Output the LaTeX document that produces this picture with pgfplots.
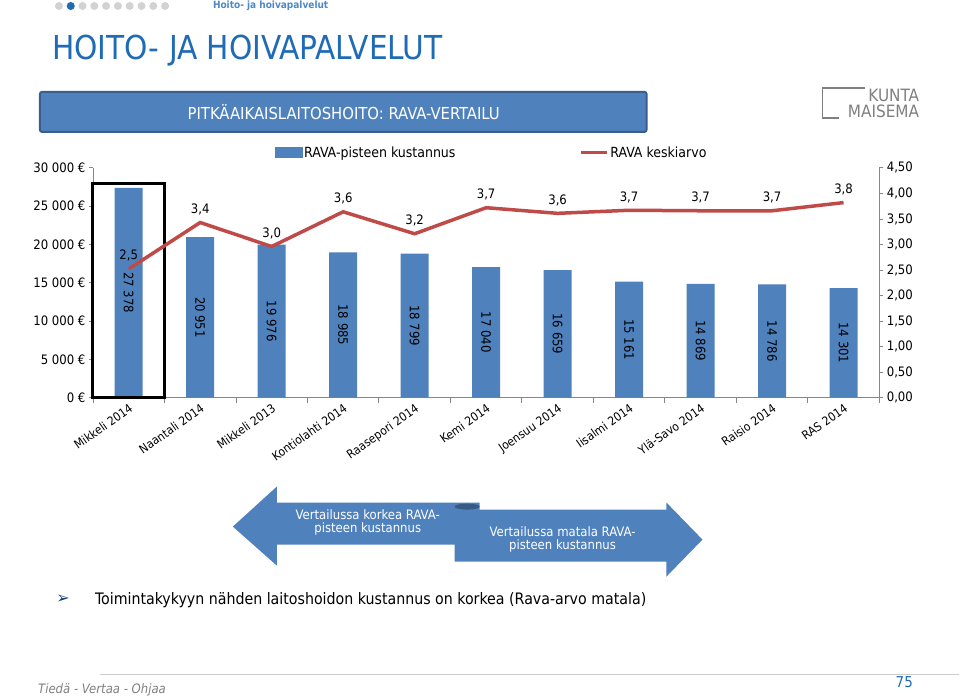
\documentclass[border=0pt]{standalone}
\usepackage{pgfplots}
\pgfplotsset{compat=1.18}
\usepackage{fontspec}
\setmainfont{DejaVu Sans Condensed}
\newfontfamily\symfont{DejaVu Sans}
\definecolor{barblue}{HTML}{4F81BD}
\definecolor{linered}{HTML}{BE4B48}
\definecolor{axgray}{HTML}{868686}
\definecolor{titleblue}{HTML}{1F6BB5}
\definecolor{bannerborder}{HTML}{3A5F8F}
\newcommand{\fs}[1]{\fontsize{#1bp}{#1bp}\selectfont}
\begin{document}
\begin{tikzpicture}
\path[fill=white] (0,0) rectangle (960bp,-698bp);
% header dots
\foreach \i in {0,...,9} { \fill[gray!35] ({(59+11.8*\i)*1bp},-6bp) circle (4bp); }
\fill[titleblue] (70.8bp,-6bp) circle (4bp);
\node[anchor=west, font=\fs{10}\bfseries, text=titleblue!80, inner sep=0] at (213bp,-6bp) {Hoito- ja hoivapalvelut};
\node[anchor=west, text=titleblue, font=\fs{33}, inner sep=0] at (52bp,-50.5bp) {HOITO- JA HOIVAPALVELUT};
% banner
\draw[fill=barblue, draw=bannerborder, line width=2bp, rounded corners=2bp] (40bp,-92bp) rectangle (647bp,-132bp);
\node[text=white, font=\fs{16.5}, inner sep=0] at (344bp,-112bp) {PITKÄAIKAISLAITOSHOITO: RAVA-VERTAILU};
% logo
\node[anchor=east, text=gray, font=\fs{17}, inner sep=0] at (920bp,-96bp) {KUNTA};
\node[anchor=east, text=gray, font=\fs{17}, inner sep=0] at (920bp,-111bp) {MAISEMA};
\draw[gray, line width=1.2bp] (866bp,-88bp) -- (823bp,-88bp) -- (823bp,-118bp) -- (840bp,-118bp);

\begin{axis}[
  at={(93bp,-398bp)}, anchor=south west,
  width=787bp, height=230bp, scale only axis,
  xmin=-0.5, xmax=10.5, ymin=0, ymax=30000,
  scaled y ticks=false,
  axis x line*=bottom, axis y line*=left,
  axis line style={axgray, line width=0.8bp},
  tick style={axgray, line width=0.8bp},
  tick align=outside, major tick length=4bp, minor tick length=5bp,
  xtick={0,...,10},
  xticklabels={Mikkeli 2014, Naantali 2014, Mikkeli 2013, Kontiolahti 2014, Raasepori 2014, Kemi 2014, Joensuu 2014, Iisalmi 2014, Ylä-Savo 2014, Raisio 2014, RAS 2014},
  minor xtick={-0.5,0.5,...,10.5},
  major x tick style={draw=none},
  ytick={0,5000,...,30000},
  yticklabels={0 €, 5 000 €, 10 000 €, 15 000 €, 20 000 €, 25 000 €, 30 000 €},
  yticklabel style={font=\fs{13}},
  xticklabel style={font=\fs{12}, rotate=35, anchor=north east, inner sep=1bp},
  ybar, bar width=28bp, clip=false,
]
\addplot[fill=barblue, draw=none,
  nodes near coords={\pgfmathprintnumber[fixed,precision=0,1000 sep={\ },assume math mode=true]{\pgfplotspointmeta}},
  visualization depends on={rawy \as \rawy},
  every node near coord/.append style={shift={(axis direction cs:0,-\rawy/2)}, rotate=-90, anchor=center, font=\fs{13}, text=black}]
  coordinates {(0,27378) (1,20951) (2,19976) (3,18985) (4,18799) (5,17040) (6,16659) (7,15161) (8,14869) (9,14786) (10,14301)};
\draw[black, line width=3bp] (axis cs:-0.5,0) rectangle (axis cs:0.5,28000);
\end{axis}

\begin{axis}[
  at={(93bp,-398bp)}, anchor=south west,
  width=787bp, height=230bp, scale only axis,
  xmin=-0.5, xmax=10.5, ymin=0, ymax=4.5,
  axis x line=none, axis y line*=right,
  axis line style={axgray, line width=0.8bp},
  tick style={axgray, line width=0.8bp},
  tick align=outside, major tick length=4bp,
  ytick={0,0.5,...,4.5},
  yticklabels={{0,00},{0,50},{1,00},{1,50},{2,00},{2,50},{3,00},{3,50},{4,00},{4,50}},
  yticklabel style={font=\fs{13}},
  clip=false,
  legend style={at={(0.5,1)}, anchor=south, xshift=5.5bp, yshift=5bp, draw=none, fill=none, font=\fs{14}, legend columns=2,
    /tikz/every even column/.append style={column sep=122bp}},
]
\addlegendimage{legend image code/.code={\fill[barblue] (0bp,-5bp) rectangle (27bp,5bp);}}
\addlegendentry{RAVA-pisteen kustannus}
\addplot[linered, line width=3.5bp, mark=none,
  legend image code/.code={\draw[linered, line width=3bp] (0bp,0bp) -- (26bp,0bp);},
  nodes near coords={\pgfmathprintnumber[fixed,fixed zerofill,precision=1,use comma,assume math mode=true]{\pgfplotspointmeta}},
  every node near coord/.append style={anchor=south, font=\fs{13}, text=black, yshift=2.5bp}]
  coordinates {(0,2.52) (1,3.43) (2,2.96) (3,3.64) (4,3.21) (5,3.72) (6,3.61) (7,3.67) (8,3.66) (9,3.66) (10,3.82)};
\addlegendentry{RAVA keskiarvo}
\end{axis}

% arrows
\fill[barblue] (233bp,-527bp) -- (277bp,-487bp) -- (277bp,-503bp) -- (480bp,-503bp) -- (480bp,-545bp) -- (277bp,-545bp) -- (277bp,-566bp) -- cycle;
\fill[barblue] (455bp,-510bp) -- (667bp,-510bp) -- (667bp,-503bp) -- (703bp,-540bp) -- (667bp,-577bp) -- (667bp,-562bp) -- (455bp,-562bp) -- cycle;
\fill[barblue!70!black] (467.5bp,-507bp) ellipse (12.5bp and 3bp);
\node[text=white, font=\fs{13}, align=center, inner sep=0] at (368bp,-523bp) {Vertailussa korkea RAVA-\\pisteen kustannus};
\node[text=white, font=\fs{13}, align=center, inner sep=0] at (563bp,-540bp) {Vertailussa matala RAVA-\\pisteen kustannus};
% bullet
\node[text=titleblue!60!black, font=\symfont\fs{16}, inner sep=0] at (63bp,-600bp) {➢};
\node[anchor=west, font=\fs{15.8}, inner sep=0] at (95bp,-601bp) {Toimintakykyyn nähden laitoshoidon kustannus on korkea (Rava-arvo matala)};
% footer
\draw[gray!40, line width=1.5bp] (100bp,-675bp) -- (960bp,-675bp);
\node[anchor=west, text=gray, font=\fs{13}\itshape, inner sep=0] at (38bp,-690bp) {Tiedä - Vertaa - Ohjaa};
\node[text=titleblue, font=\fs{15}, inner sep=0] at (905bp,-683bp) {75};
\end{tikzpicture}
\end{document}
